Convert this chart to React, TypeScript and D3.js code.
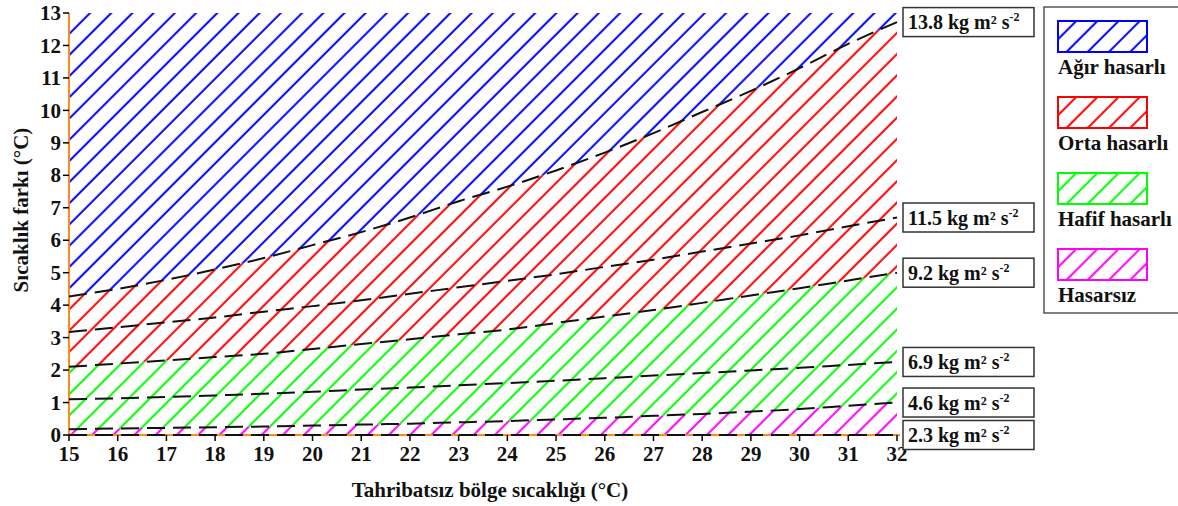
import * as d3 from 'd3';

const xTicks = [15, 16, 17, 18, 19, 20, 21, 22, 23, 24, 25, 26, 27, 28, 29, 30, 31, 32];
const yTicks = [0, 1, 2, 3, 4, 5, 6, 7, 8, 9, 10, 11, 12, 13];

// iso-lines, one value per x tick
const line23 = [0, 0, 0, 0, 0, 0, 0, 0, 0, 0, 0, 0, 0, 0, 0, 0, 0, 0];
const line46 = [0.18, 0.2, 0.22, 0.24, 0.26, 0.29, 0.32, 0.35, 0.39, 0.43, 0.48, 0.53, 0.59, 0.65, 0.72, 0.8, 0.9, 1.0];
const line69 = [1.1, 1.13, 1.17, 1.22, 1.27, 1.33, 1.4, 1.46, 1.53, 1.6, 1.67, 1.75, 1.83, 1.91, 1.99, 2.07, 2.16, 2.25];
const line92 = [2.1, 2.2, 2.3, 2.4, 2.5, 2.65, 2.8, 2.95, 3.1, 3.25, 3.45, 3.65, 3.85, 4.07, 4.3, 4.52, 4.76, 5.0];
const line115 = [3.17, 3.32, 3.47, 3.62, 3.8, 3.97, 4.15, 4.35, 4.55, 4.75, 4.95, 5.18, 5.4, 5.65, 5.9, 6.15, 6.43, 6.7];
const line138 = [4.27, 4.5, 4.78, 5.1, 5.45, 5.85, 6.25, 6.7, 7.2, 7.65, 8.15, 8.7, 9.3, 9.95, 10.6, 11.3, 12.05, 12.72];

const lineLabels = ['2.3', '4.6', '6.9', '9.2', '11.5', '13.8'];
const legendLabels = ['Ağır hasarlı', 'Orta hasarlı', 'Hafif hasarlı', 'Hasarsız'];
const legendColors = ['#0000ff', '#ff0000', '#00ff00', '#ff00ff'];

const axisOrange = '#ff8c1a';
const font = '"Liberation Serif", "Times New Roman", serif';

export default function App() {
  const left = 69;
  const right = 897;
  const top = 13;
  const bottom = 435;

  const x = d3.scaleLinear().domain([15, 32]).range([left, right]);
  const y = d3.scaleLinear().domain([0, 13]).range([bottom, top]);

  const lines = [line23, line46, line69, line92, line115, line138];
  const topLine = xTicks.map(() => 13);

  const line = d3
    .line<number>()
    .x((_, i) => x(xTicks[i]))
    .y((d) => y(d))
    .curve(d3.curveMonotoneX);

  const band = (lo: number[], hi: number[]) =>
    d3
      .area<number>()
      .x((_, i) => x(xTicks[i]))
      .y0((_, i) => y(lo[i]))
      .y1((_, i) => y(hi[i]))
      .curve(d3.curveMonotoneX)(lo) || '';

  // magenta, green, red, blue regions (bottom to top)
  const regions = [
    { d: band(line23, line46), idx: 3 },
    { d: band(line46, line92), idx: 2 },
    { d: band(line92, line138), idx: 1 },
    { d: band(line138, topLine), idx: 0 },
  ];

  const hatchStep = 21.2 / Math.SQRT2;

  return (
    <svg
      width={1178}
      height={506}
      style={{ position: 'absolute', left: 0, top: 0, background: '#fff' }}
      fontFamily={font}
    >
      <defs>
        {legendColors.map((c, i) => (
          <pattern
            key={c}
            id={`hatch${i}`}
            patternUnits="userSpaceOnUse"
            width={hatchStep}
            height={hatchStep}
            patternTransform="rotate(45)"
          >
            <line x1={12.87 % hatchStep} y1={-1} x2={12.87 % hatchStep} y2={hatchStep + 1} stroke={c} strokeWidth={2} />
          </pattern>
        ))}
      </defs>

      {regions.map((r, i) => (
        <path key={i} d={r.d} fill={`url(#hatch${r.idx})`} stroke="none" />
      ))}

      {/* axes */}
      <line x1={left} x2={left} y1={top} y2={bottom} stroke={axisOrange} strokeWidth={2} />
      <line x1={left} x2={right + 3} y1={bottom} y2={bottom} stroke={axisOrange} strokeWidth={2} />

      {lines.map((l, i) => (
        <path
          key={i}
          d={line(l) || ''}
          fill="none"
          stroke="#111"
          strokeWidth={2}
          strokeDasharray="18 8"
        />
      ))}

      {yTicks.map((t) => (
        <g key={t} transform={`translate(${left},${y(t)})`}>
          <line x1={-6} x2={0} stroke="#000" strokeWidth={1.5} />
          <text x={-8} dy="0.34em" textAnchor="end" fontSize={21} fontWeight="bold" fill="#111">
            {t}
          </text>
        </g>
      ))}
      {xTicks.map((t) => (
        <g key={t} transform={`translate(${x(t)},${bottom})`}>
          <line y1={0} y2={6} stroke="#000" strokeWidth={1.5} />
          <text y={26} textAnchor="middle" fontSize={21} fontWeight="bold" fill="#111">
            {t}
          </text>
        </g>
      ))}

      <text x={490} y={497} textAnchor="middle" fontSize={21} fontWeight="bold" fill="#111">
        Tahribatsız bölge sıcaklığı (°C)
      </text>
      <text
        transform={`translate(28,210) rotate(-90)`}
        textAnchor="middle"
        fontSize={21}
        fontWeight="bold"
        fill="#111"
      >
        Sıcaklık farkı (°C)
      </text>

      {/* line labels */}
      {lines.map((l, i) => {
        const cy = y(l[l.length - 1]);
        return (
          <g key={i} transform={`translate(903,${cy})`}>
            <rect x={0} y={-14.5} width={131} height={29} fill="#fff" stroke="#333" strokeWidth={1.5} />
            <text x={5} y={7} fontSize={20} fontWeight="bold" fill="#111">
              {lineLabels[i]} kg m² s
              <tspan fontSize={12} dy={-8}>
                -2
              </tspan>
            </text>
          </g>
        );
      })}

      {/* legend */}
      <rect x={1044} y={7} width={140} height={306} fill="#fff" stroke="#555" strokeWidth={1.5} />
      {legendLabels.map((lab, i) => (
        <g key={lab} transform={`translate(1058,${21 + i * 76})`}>
          <rect x={0} y={0} width={89} height={31} fill={`url(#hatch${i})`} stroke={legendColors[i]} strokeWidth={2} />
          <text x={0} y={53} fontSize={21} fontWeight="bold" fill="#111">
            {lab}
          </text>
        </g>
      ))}
    </svg>
  );
}
